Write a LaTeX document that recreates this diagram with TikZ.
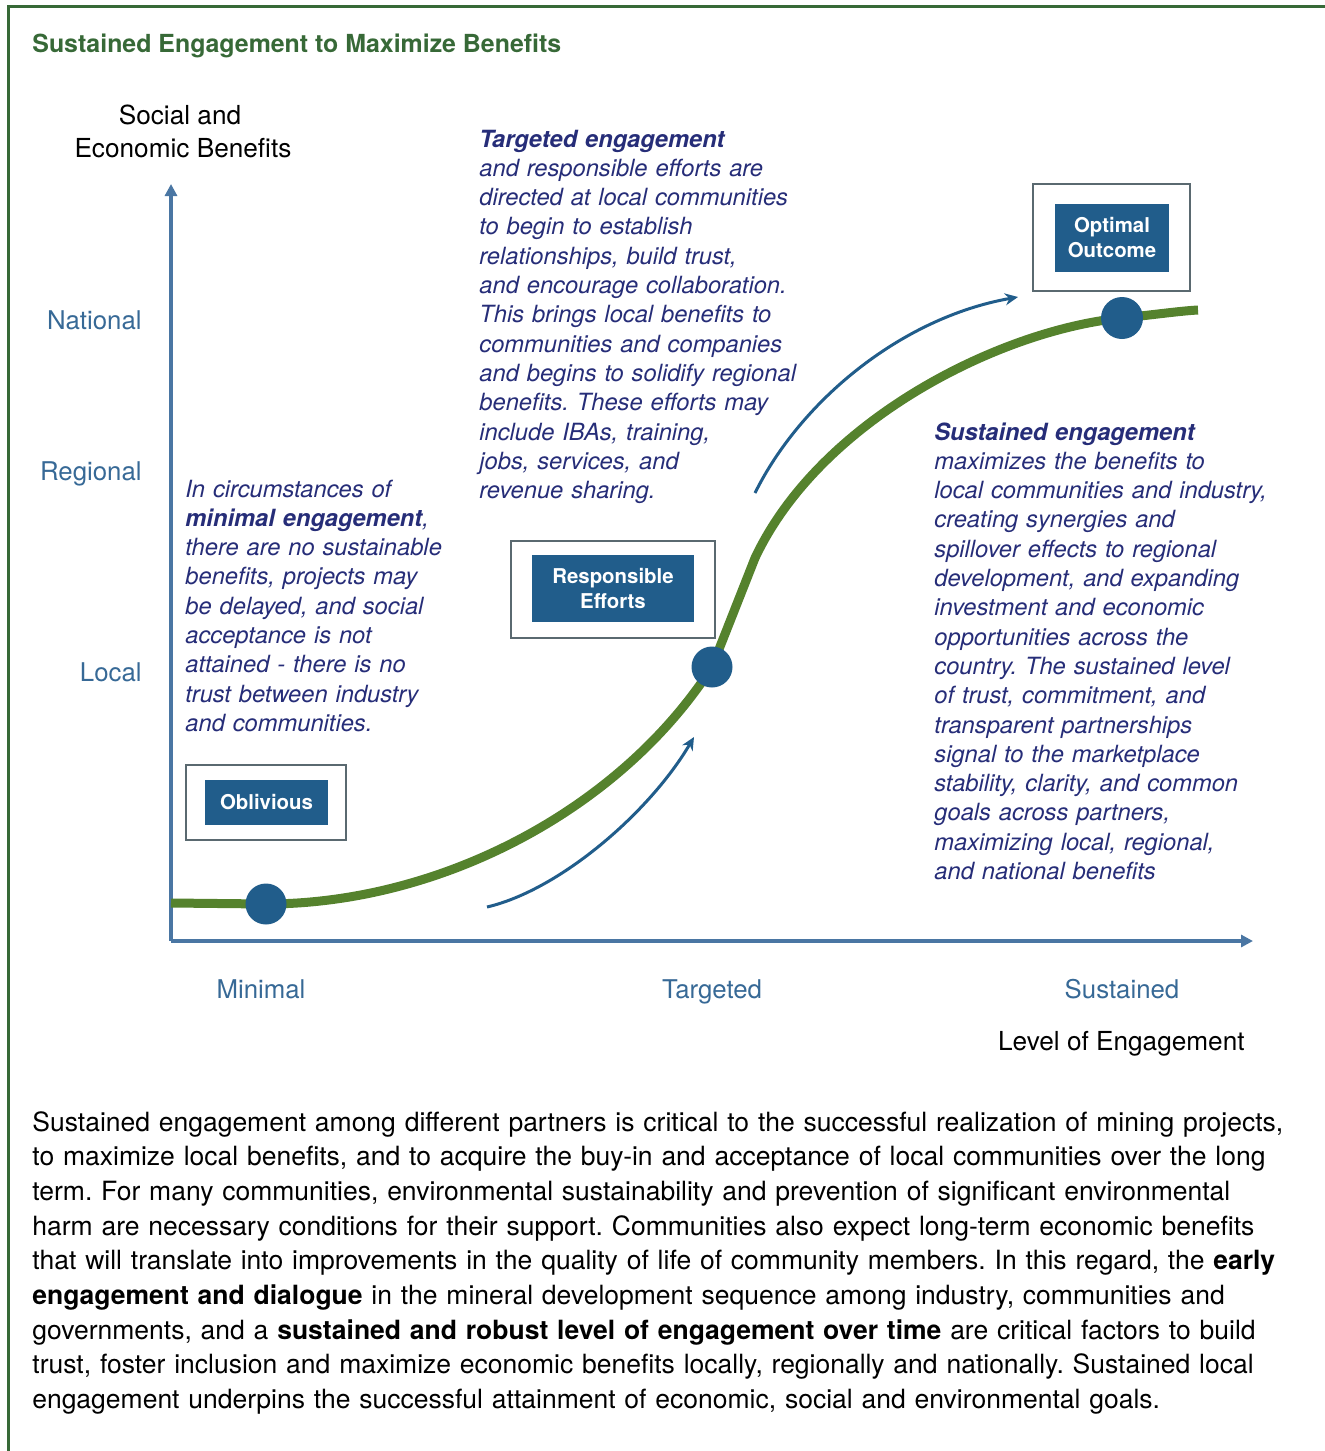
\documentclass[tikz,border=0pt]{standalone}
\usepackage{fontspec}
\setmainfont{TeX Gyre Heros}
\usetikzlibrary{arrows.meta}
\definecolor{framegreen}{RGB}{55,105,55}
\definecolor{axisblue}{RGB}{74,118,163}
\definecolor{labelblue}{RGB}{55,105,150}
\definecolor{dotblue}{RGB}{33,93,139}
\definecolor{curvegreen}{RGB}{85,130,45}
\definecolor{navy}{RGB}{38,45,120}
\definecolor{boxgray}{RGB}{90,105,112}
\begin{document}
\frenchspacing
\begin{tikzpicture}[x=0.5pt,y=-0.5pt,
  frameline/.style={draw=framegreen,line width=1.5pt},
  axisline/.style={draw=axisblue,line width=2pt,-{Triangle[length=6pt,width=6pt]}},
  levellabel/.style={text=labelblue,font=\fontsize{12.9}{15}\selectfont,inner sep=0pt},
  axistitle/.style={text=black,font=\fontsize{13.1}{16.5}\selectfont,inner sep=0pt},
  note/.style={text=navy,font=\fontsize{11.85}{14.65}\selectfont\itshape,inner sep=0pt,
    align=left,anchor=base west,text width=190pt},
  outerbox/.style={draw=boxgray,line width=1pt,fill=white,inner sep=0pt},
  stagebox/.style={fill=dotblue,text=white,inner sep=0pt,align=center,
    font=\fontsize{10.2}{12.5}\selectfont\bfseries},
  stagedot/.style={circle,fill=dotblue,minimum size=20.5pt,inner sep=0pt},
  moveline/.style={draw=dotblue,line width=1.5pt,-{Stealth[length=6.5pt,width=6pt]}},
  bodytext/.style={text=black,font=\fontsize{13.25}{17.35}\selectfont,inner sep=0pt,
    align=left,anchor=base west,text width=650pt}
]
\useasboundingbox (0,0) rectangle (1325,1451);

% frame
\draw[frameline] (1325,6) -- (8,6) -- (8,1451);

% title
\node[text=framegreen,font=\fontsize{12.45}{14}\selectfont\bfseries,inner sep=0pt,anchor=base west] (title) at (32,52) {Sustained Engagement to Maximize Benefits};

% axes
\coordinate (origin) at (171,941);
\coordinate (ytip) at (171,184);
\coordinate (xtip) at (1253,941);
\draw[axisline] (origin) -- (ytip);
\draw[axisline] (origin) -- (xtip);

\node[axistitle,anchor=base] (ytitleA) at (180,124) {Social and};
\node[axistitle,anchor=base] (ytitleB) at (183,157) {Economic Benefits};
\node[axistitle,anchor=base east] (xtitle) at (1245,1050) {Level of Engagement};

\node[levellabel,anchor=base east] (national) at (142,329) {National};
\node[levellabel,anchor=base east] (regional) at (142,480) {Regional};
\node[levellabel,anchor=base east] (local) at (142,681) {Local};

\node[levellabel,anchor=base] (minimal) at (261,998) {Minimal};
\node[levellabel,anchor=base] (targeted) at (712,998) {Targeted};
\node[levellabel,anchor=base] (sustained) at (1122,998) {Sustained};

% benefit curve
\draw[curvegreen,line width=4.5pt,line join=round]
  (171,903) -- (266,904)
  .. controls (440,904) and (620,810) .. (712,667)
  -- (755,558)
  .. controls (820,420) and (1000,330) .. (1122,318)
  .. controls (1160,314) and (1180,311) .. (1198,310);

% stage markers
\node[stagedot] (dotA) at (266,904) {};
\node[stagedot] (dotB) at (712,667) {};
\node[stagedot,minimum size=21pt] (dotC) at (1122,318) {};

% movement arrows
\coordinate (moveAstart) at (487,907);
\coordinate (moveAend) at (694,737);
\coordinate (moveBstart) at (755,493);
\coordinate (moveBend) at (1018,297);
\draw[moveline] (moveAstart) .. controls (560,890) and (650,812) .. (moveAend);
\draw[moveline] (moveBstart) .. controls (800,402) and (900,318) .. (moveBend);

% stage boxes
\node[outerbox,minimum width=80pt,minimum height=37.5pt] (oblivOuter) at (266,802.5) {};
\node[stagebox,minimum width=61.5pt,minimum height=22.5pt] (obliv) at (266.5,802.5) {Oblivious};

\node[outerbox,minimum width=102pt,minimum height=48.5pt] (respOuter) at (613,589.5) {};
\node[stagebox,minimum width=81pt,minimum height=33.5pt] (resp) at (613,588.5) {Responsible\\Efforts};

\node[outerbox,minimum width=78.5pt,minimum height=53.5pt] (optOuter) at (1111.5,237.5) {};
\node[stagebox,minimum width=57pt,minimum height=34pt] (opt) at (1112,238) {Optimal\\Outcome};

% stage descriptions
\node[note] (noteMinimal) at (185,497) {In circumstances of\\
\textbf{minimal engagement},\\
there are no sustainable\\
benefits, projects may\\
be delayed, and social\\
acceptance is not\\
attained - there is no\\
trust between industry\\
and communities.};

\node[note] (noteTargeted) at (479,147) {\textbf{Targeted engagement}\\
and responsible efforts are\\
directed at local communities\\
to begin to establish\\
relationships, build trust,\\
and encourage collaboration.\\
This brings local benefits to\\
communities and companies\\
and begins to solidify regional\\
benefits. These efforts may\\
include IBAs, training,\\
jobs, services, and\\
revenue sharing.};

\node[note] (noteSustained) at (934,440) {\textbf{Sustained engagement}\\
maximizes the benefits to\\
local communities and industry,\\
creating synergies and\\
spillover effects to regional\\
development, and expanding\\
investment and economic\\
opportunities across the\\
country. The sustained level\\
of trust, commitment, and\\
transparent partnerships\\
signal to the marketplace\\
stability, clarity, and common\\
goals across partners,\\
maximizing local, regional,\\
and national benefits};

% explanatory paragraph
\node[bodytext] (body) at (32,1131) {Sustained engagement among different partners is critical to the successful realization of mining projects,\\
to maximize local benefits, and to acquire the buy-in and acceptance of local communities over the long\\
term. For many communities, environmental sustainability and prevention of significant environmental\\
harm are necessary conditions for their support. Communities also expect long-term economic benefits\\
that will translate into improvements in the quality of life of community members. In this regard, the \textbf{early}\\
\textbf{engagement and dialogue} in the mineral development sequence among industry, communities and\\
governments, and a \textbf{sustained and robust level of engagement over time} are critical factors to build\\
trust, foster inclusion and maximize economic benefits locally, regionally and nationally. Sustained local\\
engagement underpins the successful attainment of economic, social and environmental goals.};
\end{tikzpicture}
\end{document}
